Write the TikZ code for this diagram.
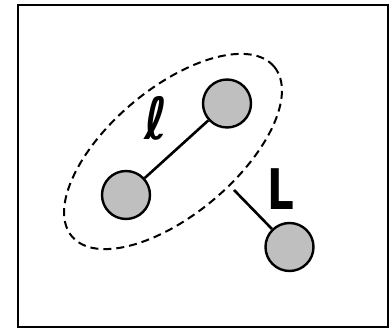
\documentclass[tikz,border=0pt]{standalone}
\usepackage{fontspec}
\newfontfamily\lblfont{DejaVu Sans}
\usetikzlibrary{shapes.geometric}
\begin{document}
\begin{tikzpicture}[x=1pt,y=-1pt,
  ball/.style={circle,draw=black,line width=2.4pt,fill=black!25,minimum size=48pt,inner sep=0pt},
  conn/.style={line width=2.6pt},
  lbl/.style={inner sep=0pt}]
\useasboundingbox (0,0) rectangle (389,328);
\draw[line width=2.2pt] (18,5.2) rectangle (387.6,326.8);
\node[draw,dash pattern=on 8pt off 5pt,line width=2pt,ellipse,minimum width=264pt,minimum height=126pt,inner sep=0pt,rotate=40] (E) at (173,151.5) {};
\node[ball] (A) at (126,195) {};
\node[ball] (B) at (227,103.5) {};
\node[ball] (C) at (289.5,247) {};
\coordinate (S) at (234,190);
\draw[conn] (A) -- (B);
\draw[conn] (S) -- (C);
\node[lbl,font=\lblfont\bfseries\fontsize{58}{58}\selectfont,xscale=0.85] (l) at (156,118) {ℓ};
\node[lbl,font=\lblfont\bfseries\fontsize{56}{56}\selectfont,xscale=0.75] (L) at (280.5,189) {L};
\end{tikzpicture}
\end{document}
